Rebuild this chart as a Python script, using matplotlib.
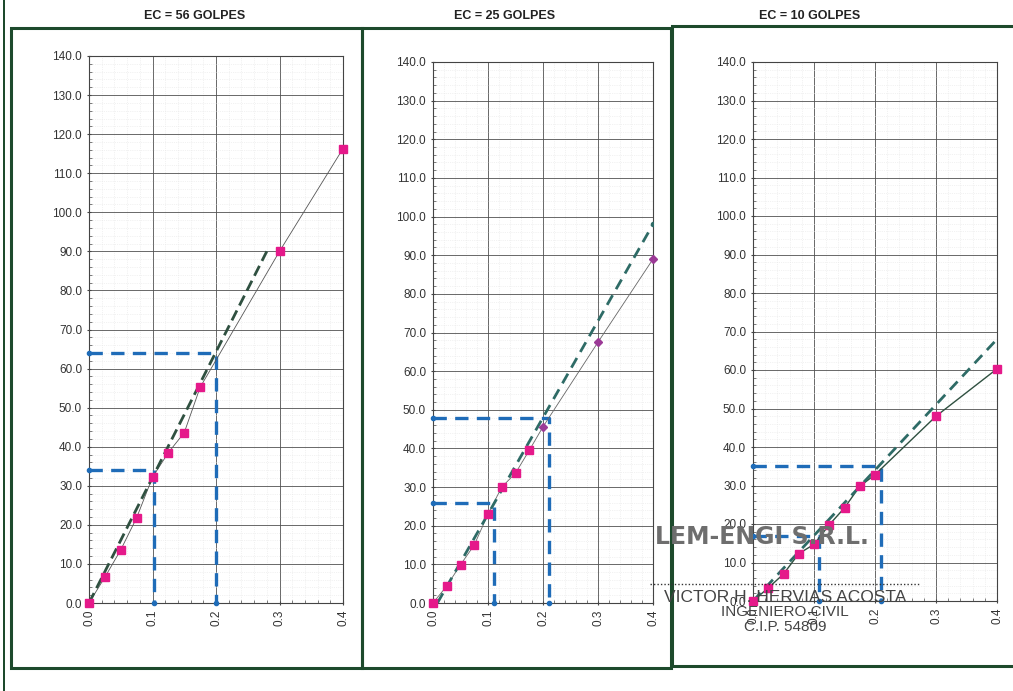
import numpy as np
import matplotlib
matplotlib.use("Agg")
import matplotlib.pyplot as plt
from matplotlib.patches import Rectangle
from matplotlib.ticker import MultipleLocator, FormatStrFormatter

plt.rcParams['font.family'] = ['Liberation Sans', 'DejaVu Sans']

# ---- data ----
titles = ["EC = 56 GOLPES", "EC = 25 GOLPES", "EC = 10 GOLPES"]

pen_56 = [0.0, 0.025, 0.05, 0.075, 0.1, 0.125, 0.15, 0.175, 0.3, 0.4]
load_56 = [0.0, 6.6, 13.6, 21.8, 32.2, 38.5, 43.6, 55.2, 90.0, 116.3]

pen_25 = [0.0, 0.025, 0.05, 0.075, 0.1, 0.125, 0.15, 0.175, 0.2, 0.3, 0.4]
load_25 = [0.0, 4.4, 9.9, 15.0, 23.0, 30.0, 33.6, 39.5, 45.6, 67.5, 89.0]
n_pink_25 = 8   # first points pink, last ones purple diamonds

pen_10 = [0.0, 0.025, 0.05, 0.075, 0.1, 0.125, 0.15, 0.175, 0.2, 0.3, 0.4]
load_10 = [0.0, 3.4, 7.0, 12.3, 14.7, 19.8, 24.2, 29.8, 32.8, 48.0, 60.3]

# corrected (dashed) lines: start / end
corr_x = [[0.0, 0.28], [0.008, 0.4], [0.0, 0.4]]
corr_y = [[0.0, 90.0], [0.0, 98.0], [0.0, 68.0]]

# blue guide lines (x at 0.1" and 0.2", load read)
guide_x = [[0.103, 0.2], [0.11, 0.21], [0.108, 0.21]]
guide_y = [[34.0, 64.0], [26.0, 48.0], [17.0, 35.0]]

W, H = 1013, 691
fig = plt.figure(figsize=(W / 100, H / 100), dpi=100)
fig.patch.set_facecolor('white')

# axes boxes in pixels: left, right, top, bottom
boxes = [(89, 343, 56, 603), (433, 653, 62, 603), (753, 997, 62, 601)]
frames = [(11, 362, 28, 668), (362, 671, 28, 668), (672, 1030, 26, 666)]
title_x = [195, 505, 810]

PINK = '#e5198a'
PURPLE = '#9b3a96'
BLUE = '#1f6cb8'
DGREEN = '#2f5040'
TEAL = '#2e6b66'
FRAME = '#1d4a2c'

def px(l, r, t, b):
    return [l / W, (H - b) / H, (r - l) / W, (b - t) / H]

# outer left line
fig.add_artist(Rectangle((3 / W, 0), 2 / W, 1, transform=fig.transFigure,
                         facecolor=FRAME, edgecolor='none'))
for (l, r, t, b) in frames:
    fig.add_artist(Rectangle((l / W, (H - b) / H), (r - l) / W, (b - t) / H,
                             transform=fig.transFigure, fill=False,
                             edgecolor=FRAME, lw=2.2))

axes = []
for i, box in enumerate(boxes):
    ax = fig.add_axes(px(*box))
    ax.set_xlim(0, 0.4)
    ax.set_ylim(0, 140)
    ax.xaxis.set_major_locator(MultipleLocator(0.1))
    ax.xaxis.set_minor_locator(MultipleLocator(0.02))
    ax.yaxis.set_major_locator(MultipleLocator(10))
    ax.yaxis.set_minor_locator(MultipleLocator(2))
    ax.yaxis.set_major_formatter(FormatStrFormatter('%.1f'))
    ax.xaxis.set_major_formatter(FormatStrFormatter('%.1f'))
    ax.grid(which='major', color='#505050', lw=0.6)
    ax.grid(which='minor', color='#e6e6e6', lw=0.5, ls=':')
    ax.tick_params(axis='x', which='major', labelrotation=90, labelsize=8.5,
                   labelcolor='#333333', length=3, direction='inout', color='#444')
    ax.tick_params(axis='y', which='major', labelsize=8.5, labelcolor='#333333',
                   length=3, direction='inout', color='#444')
    ax.tick_params(which='minor', length=2, direction='in', color='#666')
    for s in ax.spines.values():
        s.set_color('#444444')
        s.set_linewidth(0.8)
    ax.set_axisbelow(True)
    fig.text(title_x[i] / W, 1 - 16 / H, titles[i], ha='center', va='center',
             fontsize=9, fontweight='bold', color='#222222')
    axes.append(ax)

# blue guide lines
for ax, gx, gy in zip(axes, guide_x, guide_y):
    for xv, yv in zip(gx, gy):
        ax.plot([0, xv, xv], [yv, yv, 0], color=BLUE, lw=2.4, ls=(0, (4, 2.5)),
                marker='o', ms=3, markevery=[0, 2], zorder=3, clip_on=False)

# EC = 56
ax = axes[0]
ax.plot(pen_56, load_56, color='#555555', lw=0.6, zorder=4)
ax.plot(corr_x[0], corr_y[0], color=DGREEN, lw=2.0, ls=(0, (4, 2)), zorder=5)
ax.plot(pen_56, load_56, ls='none', marker='s', ms=5.5, color=PINK, zorder=6, clip_on=False)

# EC = 25
ax = axes[1]
ax.plot(pen_25, load_25, color='#666666', lw=0.6, zorder=4)
ax.plot(corr_x[1], corr_y[1], color=TEAL, lw=2.0, ls=(0, (4, 2.5)), zorder=5,
        marker='o', ms=3, markevery=[1])
ax.plot(pen_25[:n_pink_25], load_25[:n_pink_25], ls='none', marker='s', ms=5.5,
        color=PINK, zorder=6, clip_on=False)
ax.plot(pen_25[n_pink_25:], load_25[n_pink_25:], ls='none', marker='D', ms=4.5,
        color=PURPLE, zorder=6, clip_on=False)

# EC = 10
ax = axes[2]
ax.plot(pen_10, load_10, color=DGREEN, lw=1.0, zorder=4)
ax.plot(corr_x[2], corr_y[2], color=TEAL, lw=2.0, ls=(0, (4, 2.5)), zorder=5)
ax.plot(pen_10, load_10, ls='none', marker='s', ms=5.5, color=PINK, zorder=6, clip_on=False)

# stamp text over the third panel
STAMP = '#6e6e6e'
fig.text(655 / W, 1 - 537 / H, "LEM-ENGI S.R.L.", ha='left', va='center',
         fontsize=17, fontweight='bold', color=STAMP, family='DejaVu Sans', zorder=10)
fig.add_artist(plt.Line2D([650 / W, 920 / W], [1 - 584 / H, 1 - 584 / H],
                          transform=fig.transFigure, color='#333333', lw=1.0,
                          ls=(0, (1, 1.5)), zorder=10))
fig.text(785 / W, 1 - 597 / H, "VICTOR H. HERVIAS ACOSTA", ha='center', va='center',
         fontsize=12.5, color='#444444', zorder=10)
fig.text(785 / W, 1 - 612 / H, "INGENIERO CIVIL", ha='center', va='center',
         fontsize=11, color='#444444', zorder=10)
fig.text(785 / W, 1 - 627 / H, "C.I.P. 54809", ha='center', va='center',
         fontsize=11, color='#444444', zorder=10)

fig.savefig('out.png', dpi=100, facecolor='white')
